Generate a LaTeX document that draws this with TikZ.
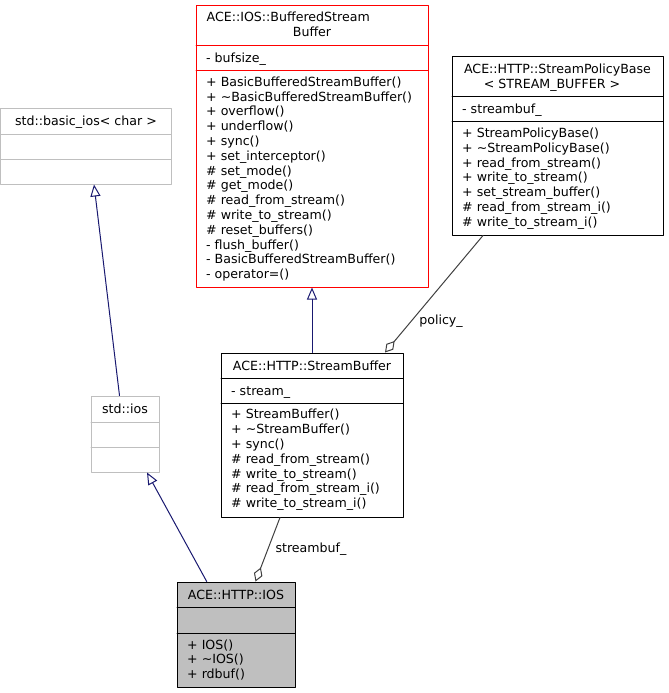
\documentclass[tikz,border=0pt]{standalone}
\usepackage{fontspec}
\setmainfont{DejaVu Sans}
\usepackage{tikz}
\usetikzlibrary{arrows.meta}
\definecolor{edgeblue}{RGB}{25,25,112}
\definecolor{edgegray}{RGB}{64,64,64}
\definecolor{boxgray}{RGB}{191,191,191}
\tikzset{
  classbox/.style={draw, line width=1bp, inner sep=0pt},
  sepline/.style={line width=1bp},
  memtext/.style={inner sep=0pt, align=left, font=\fontsize{12.6bp}{14.8bp}\selectfont},
  inherit/.style={draw=edgeblue, line width=1bp, -{Triangle[open, length=12bp, width=10bp]}},
  aggr/.style={draw=edgegray, line width=1bp, -{Diamond[open, length=15bp, width=9bp]}}
}
\begin{document}
\begin{tikzpicture}[line cap=round,line join=round,x=1bp,y=-1bp]
\useasboundingbox (0,0) rectangle (669,693);
% std::basic_ios< char >
\node[classbox, draw=boxgray, minimum width=170bp, minimum height=75bp] (basicios) at (86,146.5) {};
\draw[sepline, boxgray] (1,134) -- (171,134);
\draw[sepline, boxgray] (1,159) -- (171,159);
\node[memtext, anchor=base] (basicioshead) at (86,126) {std::basic\_ios< char >};
% std::ios
\node[classbox, draw=boxgray, minimum width=68bp, minimum height=76bp] (stdios) at (125,434) {};
\draw[sepline, boxgray] (91,422) -- (159,422);
\draw[sepline, boxgray] (91,447) -- (159,447);
\node[memtext, anchor=base] (stdioshead) at (125,413.6) {std::ios};
% ACE::IOS::BufferedStreamBuffer
\node[classbox, draw=red, minimum width=232bp, minimum height=281bp] (bsb) at (312,146.5) {};
\draw[sepline, red] (196,46) -- (428,46);
\draw[sepline, red] (196,71) -- (428,71);
\node[memtext, anchor=base west] (bsbhead) at (206.5,22) {ACE::IOS::BufferedStream};
\node[memtext, anchor=base] (bsbhead2) at (312,37) {Buffer};
\node[memtext, anchor=base west] (bsbattr) at (206,63) {- bufsize\_};
\node[memtext, anchor=west] (bsbops) at (206,179) {+ BasicBufferedStreamBuffer()\\
+ \textasciitilde BasicBufferedStreamBuffer()\\
+ overflow()\\
+ underflow()\\
+ sync()\\
+ set\_interceptor()\\
\# set\_mode()\\
\# get\_mode()\\
\# read\_from\_stream()\\
\# write\_to\_stream()\\
\# reset\_buffers()\\
- flush\_buffer()\\
- BasicBufferedStreamBuffer()\\
- operator=()};
% ACE::HTTP::StreamPolicyBase
\node[classbox, minimum width=211bp, minimum height=178bp] (policy) at (557.5,146) {};
\draw[sepline] (452,97) -- (663,97);
\draw[sepline] (452,122) -- (663,122);
\node[memtext, anchor=base] (policyhead) at (557.5,74) {ACE::HTTP::StreamPolicyBase};
\node[memtext, anchor=base] (policyhead2) at (552,89) {< STREAM\_BUFFER >};
\node[memtext, anchor=base west] (policyattr) at (462,114) {- streambuf\_};
\node[memtext, anchor=west] (policyops) at (462,178.5) {+ StreamPolicyBase()\\
+ \textasciitilde StreamPolicyBase()\\
+ read\_from\_stream()\\
+ write\_to\_stream()\\
+ set\_stream\_buffer()\\
\# read\_from\_stream\_i()\\
\# write\_to\_stream\_i()};
% ACE::HTTP::StreamBuffer
\node[classbox, minimum width=182bp, minimum height=164bp] (sbuf) at (312,435) {};
\draw[sepline] (221,378) -- (403,378);
\draw[sepline] (221,403) -- (403,403);
\node[memtext, anchor=base] (sbufhead) at (312,370) {ACE::HTTP::StreamBuffer};
\node[memtext, anchor=base west] (sbufattr) at (231,395) {- stream\_};
\node[memtext, anchor=west] (sbufops) at (231,460) {+ StreamBuffer()\\
+ \textasciitilde StreamBuffer()\\
+ sync()\\
\# read\_from\_stream()\\
\# write\_to\_stream()\\
\# read\_from\_stream\_i()\\
\# write\_to\_stream\_i()};
% ACE::HTTP::IOS
\node[classbox, fill=boxgray, minimum width=118bp, minimum height=105bp] (ios) at (236,634.5) {};
\draw[sepline] (177,607) -- (295,607);
\draw[sepline] (177,633) -- (295,633);
\node[memtext, anchor=base] (ioshead) at (236,599) {ACE::HTTP::IOS};
\node[memtext, anchor=west] (iosops) at (187,660) {+ IOS()\\
+ \textasciitilde IOS()\\
+ rdbuf()};
% edges
\draw[inherit] ([xshift=-5.5bp]stdios.north) -- ([xshift=8bp]basicios.south);
\draw[inherit] ([xshift=-29.3bp]ios.north) -- ([xshift=22bp]stdios.south);
\draw[inherit] (sbuf.north) -- (bsb.south);
\draw[aggr] ([xshift=-74.5bp]policy.south) -- ([xshift=73bp]sbuf.north);
\draw[aggr] ([xshift=-32bp]sbuf.south) -- ([xshift=19.5bp]ios.north);
\node[memtext, anchor=base] (policylbl) at (441,324.6) {policy\_};
\node[memtext, anchor=base] (streambuflbl) at (311,552.6) {streambuf\_};
\end{tikzpicture}
\end{document}
